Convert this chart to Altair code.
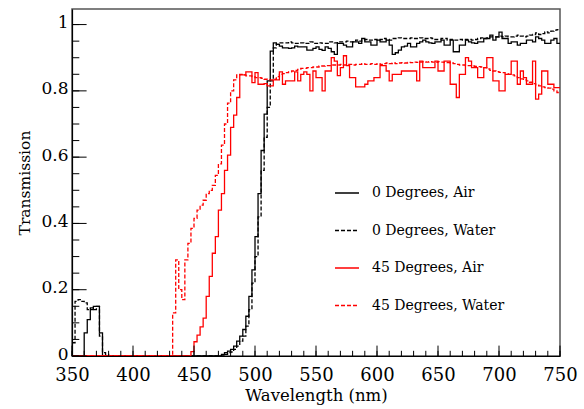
import altair as alt
import pandas as pd

# ---- data: histogram bins of 2.5 nm from 350 to 750 nm (bin left edges) ----
bin_start = 350.0
bin_width = 2.5

air0 = [
    0, 0, 0, 0, 0.07, 0.11, 0.14, 0.15, 0.15, 0.07,                              # 350
    0, 0, 0, 0, 0, 0, 0, 0, 0, 0,                                                 # 375
    0, 0, 0, 0, 0, 0, 0, 0, 0, 0,                                                 # 400
    0, 0, 0, 0, 0, 0, 0, 0, 0, 0,                                                 # 425
    0, 0, 0, 0, 0, 0, 0, 0, 0, 0.005,                                             # 450
    0.01, 0.015, 0.02, 0.03, 0.045, 0.06, 0.08, 0.12, 0.18, 0.26,                 # 475
    0.36, 0.49, 0.62, 0.73, 0.83, 0.92, 0.945, 0.94, 0.935, 0.93,                 # 500
    0.93, 0.928, 0.93, 0.935, 0.933, 0.933, 0.933, 0.923, 0.923, 0.928,           # 525
    0.933, 0.925, 0.922, 0.933, 0.928, 0.918, 0.91, 0.943, 0.943, 0.938,          # 550
    0.933, 0.933, 0.948, 0.948, 0.943, 0.958, 0.948, 0.948, 0.938, 0.938,         # 575
    0.953, 0.948, 0.948, 0.953, 0.938, 0.91, 0.915, 0.923, 0.933, 0.935,          # 600
    0.943, 0.933, 0.933, 0.943, 0.948, 0.953, 0.948, 0.945, 0.943, 0.948,         # 625
    0.948, 0.953, 0.938, 0.938, 0.953, 0.918, 0.918, 0.938, 0.938, 0.953,         # 650
    0.948, 0.945, 0.943, 0.948, 0.948, 0.958, 0.958, 0.968, 0.953, 0.963,         # 675
    0.977, 0.958, 0.958, 0.943, 0.948, 0.948, 0.938, 0.943, 0.943, 0.953,         # 700
    0.953, 0.948, 0.963, 0.958, 0.953, 0.943, 0.943, 0.953, 0.958, 0.943,         # 725
]

water0 = [
    0.04, 0.165, 0.17, 0.165, 0.16, 0.14, 0.145, 0.14, 0.15, 0.06,                # 350
    0.01, 0.005, 0, 0, 0, 0, 0, 0, 0, 0,                                          # 375
    0, 0, 0, 0, 0, 0, 0, 0, 0, 0,                                                 # 400
    0, 0, 0, 0, 0, 0, 0, 0, 0, 0,                                                 # 425
    0, 0, 0, 0, 0, 0, 0, 0, 0, 0,                                                 # 450
    0.005, 0.01, 0.012, 0.02, 0.03, 0.045, 0.06, 0.09, 0.14, 0.22,                # 475
    0.3, 0.42, 0.56, 0.66, 0.75, 0.83, 0.93, 0.94, 0.945, 0.945,                  # 500
    0.945, 0.948, 0.945, 0.943, 0.943, 0.945, 0.943, 0.943, 0.948, 0.943,         # 525
    0.943, 0.945, 0.943, 0.943, 0.948, 0.948, 0.945, 0.948, 0.948, 0.948,         # 550
    0.95, 0.948, 0.948, 0.953, 0.95, 0.953, 0.955, 0.953, 0.953, 0.955,           # 575
    0.953, 0.955, 0.958, 0.955, 0.953, 0.958, 0.958, 0.96, 0.958, 0.958,          # 600
    0.958, 0.96, 0.958, 0.958, 0.96, 0.958, 0.958, 0.96, 0.958, 0.955,            # 625
    0.955, 0.958, 0.958, 0.953, 0.955, 0.953, 0.953, 0.955, 0.953, 0.955,         # 650
    0.955, 0.953, 0.955, 0.958, 0.96, 0.958, 0.96, 0.963, 0.963, 0.963,           # 675
    0.965, 0.963, 0.965, 0.963, 0.963, 0.965, 0.968, 0.965, 0.963, 0.965,         # 700
    0.968, 0.97, 0.975, 0.97, 0.973, 0.978, 0.975, 0.98, 0.983, 0.985,            # 725
]

air45 = [
    0, 0, 0, 0, 0, 0, 0, 0, 0, 0,                                                 # 350
    0, 0, 0, 0, 0, 0, 0, 0, 0, 0,                                                 # 375
    0, 0, 0, 0, 0, 0, 0, 0, 0, 0,                                                 # 400
    0, 0, 0, 0, 0, 0, 0, 0, 0, 0.013,                                             # 425
    0.043, 0.063, 0.088, 0.114, 0.18, 0.24, 0.31, 0.36, 0.44, 0.49,               # 450
    0.56, 0.606, 0.69, 0.727, 0.78, 0.848, 0.848, 0.857, 0.857, 0.825,            # 475
    0.855, 0.82, 0.82, 0.822, 0.815, 0.815, 0.833, 0.833, 0.857, 0.82,            # 500
    0.83, 0.83, 0.83, 0.857, 0.83, 0.85, 0.857, 0.85, 0.80, 0.86,                 # 525
    0.84, 0.84, 0.80, 0.86, 0.86, 0.9, 0.89, 0.846, 0.87, 0.906,                  # 550
    0.876, 0.84, 0.84, 0.812, 0.812, 0.812, 0.82, 0.83, 0.83, 0.84,               # 575
    0.84, 0.876, 0.876, 0.86, 0.83, 0.85, 0.85, 0.85, 0.86, 0.86,                 # 600
    0.86, 0.86, 0.86, 0.83, 0.89, 0.87, 0.87, 0.87, 0.87, 0.89,                   # 625
    0.86, 0.86, 0.89, 0.89, 0.82, 0.82, 0.78, 0.85, 0.85, 0.9,                    # 650
    0.89, 0.87, 0.87, 0.84, 0.84, 0.87, 0.9, 0.9, 0.83, 0.83,                     # 675
    0.80, 0.80, 0.85, 0.85, 0.89, 0.89, 0.82, 0.86, 0.84, 0.82,                   # 700
    0.82, 0.89, 0.775, 0.79, 0.86, 0.86, 0.82, 0.82, 0.81, 0.81,                  # 725
]

water45 = [
    0, 0, 0, 0, 0, 0, 0, 0, 0, 0,                                                 # 350
    0, 0, 0, 0, 0, 0, 0, 0, 0, 0,                                                 # 375
    0, 0, 0, 0, 0, 0, 0, 0, 0, 0,                                                 # 400
    0, 0, 0, 0.13, 0.29, 0.2, 0.17, 0.29, 0.34, 0.385,                            # 425
    0.415, 0.44, 0.455, 0.47, 0.49, 0.5, 0.515, 0.545, 0.58, 0.636,               # 450
    0.7, 0.763, 0.8, 0.833, 0.848, 0.85, 0.848, 0.845, 0.845, 0.843,              # 475
    0.84, 0.84, 0.838, 0.835, 0.833, 0.833, 0.835, 0.843, 0.85, 0.852,            # 500
    0.855, 0.857, 0.86, 0.862, 0.865, 0.868, 0.868, 0.87, 0.87, 0.872,            # 525
    0.872, 0.875, 0.875, 0.876, 0.876, 0.878, 0.878, 0.878, 0.88, 0.878,          # 550
    0.88, 0.88, 0.878, 0.88, 0.88, 0.882, 0.88, 0.88, 0.882, 0.88,                # 575
    0.882, 0.88, 0.882, 0.884, 0.882, 0.884, 0.882, 0.884, 0.885, 0.884,          # 600
    0.886, 0.885, 0.887, 0.886, 0.887, 0.888, 0.887, 0.888, 0.887, 0.886,         # 625
    0.888, 0.887, 0.886, 0.885, 0.884, 0.882, 0.88, 0.878, 0.878, 0.876,          # 650
    0.876, 0.875, 0.874, 0.873, 0.872, 0.87, 0.866, 0.862, 0.86, 0.858,           # 675
    0.856, 0.855, 0.852, 0.85, 0.848, 0.845, 0.84, 0.836, 0.833, 0.83,            # 700
    0.826, 0.822, 0.818, 0.815, 0.812, 0.81, 0.808, 0.805, 0.8, 0.795,            # 725
]

series_names = ["0 Degrees, Air", "0 Degrees, Water", "45 Degrees, Air", "45 Degrees, Water"]
series_values = [air0, water0, air45, water45]
series_colors = ["#000000", "#000000", "#ff0000", "#ff0000"]
series_dashes = [[1, 0], [4, 2], [1, 0], [4, 2]]

x_major = [350, 400, 450, 500, 550, 600, 650, 700, 750]
x_minor = [350 + 10 * i for i in range(41)]
y_major = [0, 0.2, 0.4, 0.6, 0.8, 1.0]
y_minor = [round(0.05 * i, 2) for i in range(21)]

X_DOMAIN = [350, 750]
Y_DOMAIN = [0, 1.047]

W, H = 488, 347
FONT = "DejaVu Serif"

rows = []
for name, vals in zip(series_names, series_values):
    for k, v in enumerate(vals):
        rows.append({"series": name, "wl": bin_start + k * bin_width, "t": v})
    rows.append({"series": name, "wl": bin_start + len(vals) * bin_width, "t": vals[-1]})
df = pd.DataFrame(rows)

xscale = alt.Scale(domain=X_DOMAIN, nice=False, zero=False)
yscale = alt.Scale(domain=Y_DOMAIN, nice=False, zero=False)

legend = alt.Legend(
    orient="none", legendX=262, legendY=171, title=None,
    labelFont=FONT, labelFontSize=14, labelColor="black", labelOffset=12,
    symbolType="stroke", symbolSize=576, symbolStrokeWidth=1.3,
    rowPadding=17.5, padding=0,
)

lines = alt.Chart(df).mark_line(interpolate="step-after", strokeWidth=1.3, clip=True).encode(
    x=alt.X("wl:Q", scale=xscale,
            axis=alt.Axis(values=x_major, ticks=False, grid=False, domainColor="black", domainWidth=1.2,
                          labelFont=FONT, labelFontSize=18, labelColor="black", labelPadding=10,
                          labelFlush=False, labelOverlap=False, format="d",
                          title="Wavelength (nm)", titleFont=FONT, titleFontSize=16.5,
                          titleFontWeight="normal", titleColor="black", titlePadding=3)),
    y=alt.Y("t:Q", scale=yscale,
            axis=alt.Axis(values=y_major, ticks=False, grid=False, domainColor="black", domainWidth=1.2,
                          labelFont=FONT, labelFontSize=17, labelColor="black", labelPadding=4,
                          labelOffset=-2,
                          labelFlush=False, labelOverlap=False, format="~g",
                          title="Transmission", titleFont=FONT, titleFontSize=15.5,
                          titleFontWeight="normal", titleColor="black", titlePadding=8)),
    color=alt.Color("series:N", scale=alt.Scale(domain=series_names, range=series_colors), legend=legend),
    strokeDash=alt.StrokeDash("series:N", scale=alt.Scale(domain=series_names, range=series_dashes), legend=legend),
)

xmaj = alt.Chart(pd.DataFrame({"v": x_major})).mark_rule(color="black", strokeWidth=1).encode(
    x=alt.X("v:Q", scale=xscale), y=alt.value(H), y2=alt.value(H - 10.4))
xmin = alt.Chart(pd.DataFrame({"v": x_minor})).mark_rule(color="black", strokeWidth=1).encode(
    x=alt.X("v:Q", scale=xscale), y=alt.value(H), y2=alt.value(H - 5.2))
ymaj = alt.Chart(pd.DataFrame({"v": y_major})).mark_rule(color="black", strokeWidth=1).encode(
    y=alt.Y("v:Q", scale=yscale), x=alt.value(0), x2=alt.value(14.6))
ymin = alt.Chart(pd.DataFrame({"v": y_minor})).mark_rule(color="black", strokeWidth=1).encode(
    y=alt.Y("v:Q", scale=yscale), x=alt.value(0), x2=alt.value(7.3))

chart = alt.layer(lines, xmaj, xmin, ymaj, ymin).properties(
    width=W, height=H,
    autosize=alt.AutoSizeParams(type="none"),
    padding={"left": 72, "top": 9, "right": 24, "bottom": 53},
    background="white",
).configure_view(stroke="#555555", strokeWidth=1.5)

chart.save("out.html", embed_options={"renderer": "svg", "actions": False})
